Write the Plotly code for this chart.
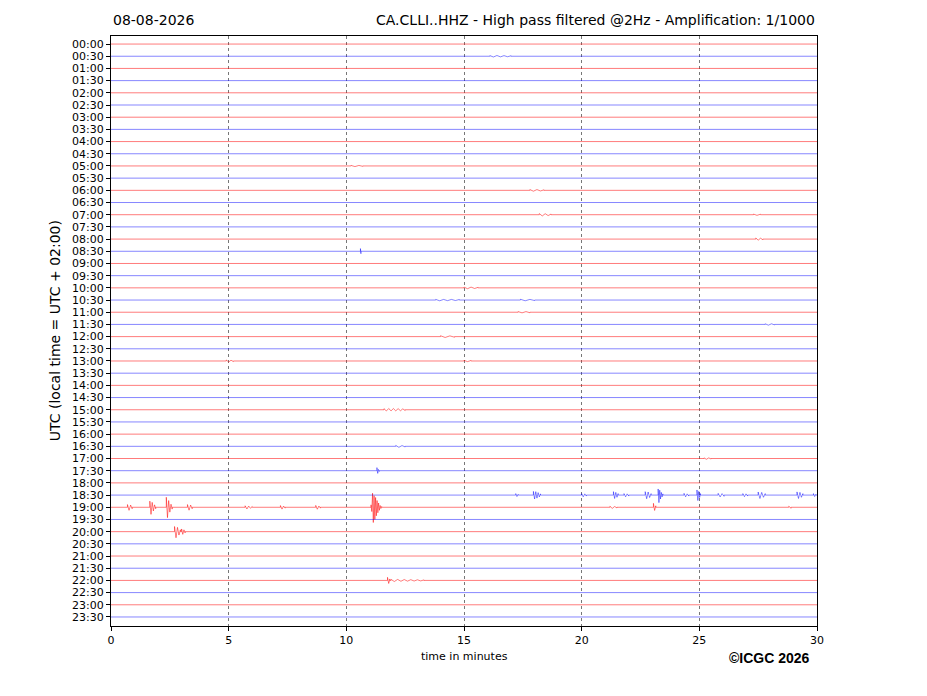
import numpy as np
import plotly.graph_objects as go

# etiquetes de les files (UTC)
row_labels = ["00:00", "00:30", "01:00", "01:30", "02:00", "02:30", "03:00", "03:30",
              "04:00", "04:30", "05:00", "05:30", "06:00", "06:30", "07:00", "07:30",
              "08:00", "08:30", "09:00", "09:30", "10:00", "10:30", "11:00", "11:30",
              "12:00", "12:30", "13:00", "13:30", "14:00", "14:30", "15:00", "15:30",
              "16:00", "16:30", "17:00", "17:30", "18:00", "18:30", "19:00", "19:30",
              "20:00", "20:30", "21:00", "21:30", "22:00", "22:30", "23:00", "23:30"]
row_colors = ["rgba(255,0,0,0.65)", "rgba(0,0,255,0.6)"]   # alternen fila a fila

x_ticks = [0, 5, 10, 15, 20, 25, 30]

# esdeveniments: (fila, minut inici, minut final, amplituds dels pics en unitats de fila)
events = [
    ("00:30", 16.1, 17.0, [0.05, -0.06, 0.06, -0.05, 0.05, -0.04, 0.04]),
    ("05:00", 10.2, 10.7, [0.04, -0.05, 0.04, -0.03]),
    ("06:00", 17.8, 18.4, [0.06, -0.07, 0.06, -0.05, 0.04]),
    ("07:00", 18.2, 18.7, [0.09, -0.10, 0.08, -0.07, 0.05]),
    ("07:00", 27.3, 27.6, [0.05, -0.05, 0.04]),
    ("08:00", 27.4, 27.7, [0.09, -0.09, 0.07, -0.05]),
    ("08:30", 10.6, 10.62, [0.22, -0.20]),
    ("10:00", 15.0, 15.6, [0.06, -0.07, 0.06, -0.05, 0.04]),
    ("10:30", 13.8, 14.8, [0.05, -0.06, 0.05, -0.05, 0.05, -0.04, 0.04]),
    ("10:30", 17.4, 18.0, [0.06, -0.06, 0.05, -0.04]),
    ("11:00", 17.3, 17.8, [0.05, -0.05, 0.05, -0.04]),
    ("11:30", 27.8, 28.2, [0.05, -0.06, 0.05, -0.04]),
    ("12:00", 14.0, 14.6, [0.07, -0.07, 0.06, -0.05]),
    ("13:00", 4.9, 5.2, [0.08, -0.08, 0.06, -0.04]),
    ("13:00", 15.0, 15.3, [0.05, -0.05, 0.04]),
    ("15:00", 11.6, 12.5, [0.09, -0.10, 0.10, -0.09, 0.10, -0.09, 0.09, -0.08, 0.07, -0.06]),
    ("16:30", 12.1, 12.5, [0.07, -0.08, 0.06, -0.05]),
    ("17:00", 25.2, 25.5, [0.05, -0.06, 0.05, -0.04]),
    ("17:30", 11.3, 11.4, [0.25, -0.22, 0.10, -0.06]),
    ("18:30", 17.2, 17.3, [0.12, -0.12, 0.06]),
    ("18:30", 17.95, 18.25, [0.30, -0.32, 0.28, -0.25, 0.20, -0.15, 0.10]),
    ("18:30", 20.0, 20.2, [0.12, -0.14, 0.10, -0.08]),
    ("18:30", 21.35, 21.55, [0.28, -0.28, 0.22, -0.18, 0.12]),
    ("18:30", 21.8, 22.0, [0.12, -0.14, 0.10, -0.08]),
    ("18:30", 22.7, 22.95, [0.28, -0.30, 0.25, -0.20, 0.12]),
    ("18:30", 23.25, 23.45, [0.50, -0.62, 0.40, -0.32, 0.22, -0.15, 0.10]),
    ("18:30", 24.35, 24.55, [0.14, -0.14, 0.10, -0.08]),
    ("18:30", 24.9, 25.05, [0.42, -0.45, 0.30, -0.20, 0.12]),
    ("18:30", 25.8, 26.05, [0.14, -0.15, 0.12, -0.10]),
    ("18:30", 26.85, 27.05, [0.12, -0.13, 0.10, -0.08]),
    ("18:30", 27.5, 27.8, [0.25, -0.28, 0.22, -0.18, 0.12]),
    ("18:30", 29.15, 29.4, [0.26, -0.28, 0.22, -0.18, 0.12]),
    ("18:30", 29.85, 29.95, [0.12, -0.12, 0.06]),
    ("19:00", 0.7, 0.9, [0.22, -0.25, 0.18, -0.12]),
    ("19:00", 1.65, 1.9, [0.50, -0.58, 0.40, -0.30, 0.20, -0.12]),
    ("19:00", 2.35, 2.6, [0.82, -0.85, 0.55, -0.40, 0.25, -0.15]),
    ("19:00", 3.25, 3.45, [0.22, -0.24, 0.18, -0.12]),
    ("19:00", 5.7, 6.0, [0.12, -0.14, 0.10, -0.08, 0.06]),
    ("19:00", 7.2, 7.4, [0.14, -0.15, 0.10, -0.07]),
    ("19:00", 8.7, 8.9, [0.15, -0.16, 0.10, -0.07]),
    ("19:00", 11.05, 11.5, [0.20, -0.35, 1.15, -1.25, 0.95, -1.00, 0.80, -0.70, 0.55,
                            -0.45, 0.35, -0.25, 0.15, -0.10, 0.06]),
    ("19:00", 21.2, 21.5, [0.08, -0.09, 0.06, -0.05]),
    ("19:00", 23.05, 23.15, [0.32, -0.26, 0.12]),
    ("19:00", 28.8, 28.9, [0.08, -0.08]),
    ("20:00", 2.7, 2.95, [0.42, -0.50, 0.35, -0.28, 0.15]),
    ("20:00", 3.0, 3.15, [0.22, -0.22, 0.15, -0.10]),
    ("22:00", 11.75, 11.85, [0.25, -0.25, 0.12]),
    ("22:00", 11.9, 13.3, [0.08, -0.09, 0.08, -0.07, 0.07, -0.06, 0.06, -0.05, 0.05, -0.04, 0.04]),
]

fig = go.Figure()

for color_index, color in enumerate(row_colors):
    xs, ys = [], []
    for i, label in enumerate(row_labels):
        if i % 2 != color_index:
            continue
        row_x, row_y = [0.0], [float(i)]
        for ev_label, t0, t1, amps in sorted(e for e in events if e[0] == label):
            row_x += [t0] + list(np.linspace(t0, t1, len(amps))) + [t1]
            row_y += [float(i)] + [i - a for a in amps] + [float(i)]
        row_x.append(30.0)
        row_y.append(float(i))
        xs += row_x + [None]
        ys += row_y + [None]
    fig.add_trace(go.Scatter(x=xs, y=ys, mode="lines", showlegend=False, hoverinfo="skip",
                             line=dict(color=color, width=0.8)))

# la pàgina té 8 px de marge al body
fig.update_layout(
    width=919, height=688,
    margin=dict(l=103, r=110, t=28, b=70),
    paper_bgcolor="white", plot_bgcolor="white",
    font=dict(family="DejaVu Sans", size=11, color="black"),
)

fig.update_xaxes(range=[0, 30], tickvals=x_ticks, ticks="outside", ticklen=4, tickcolor="black",
                 showline=True, linecolor="black", linewidth=1, mirror=True,
                 showgrid=True, gridcolor="#777", griddash="dot", gridwidth=0.5, zeroline=False)
fig.update_yaxes(range=[47.74, -0.66], tickvals=list(range(len(row_labels))), ticktext=row_labels,
                 ticks="outside", ticklen=4, tickcolor="black",
                 showline=True, linecolor="black", linewidth=1, mirror=True,
                 showgrid=False, zeroline=False)

fig.add_annotation(text="08-08-2026", xref="paper", yref="paper", x=0, y=1.027,
                   xanchor="left", yanchor="middle", showarrow=False, font=dict(size=14))
fig.add_annotation(text="CA.CLLI..HHZ - High pass filtered @2Hz - Amplification: 1/1000",
                   xref="paper", yref="paper", x=1, y=1.027,
                   xanchor="right", yanchor="middle", showarrow=False, font=dict(size=14))
fig.add_annotation(text="UTC (local time = UTC + 02:00)", xref="paper", yref="paper",
                   x=-0.079, y=0.5, textangle=-90, xanchor="center", yanchor="middle",
                   showarrow=False, font=dict(size=14))
fig.add_annotation(text="time in minutes", xref="paper", yref="paper", x=0.5, y=-0.051,
                   xanchor="center", yanchor="middle", showarrow=False, font=dict(size=11))
fig.add_annotation(text="<b>©ICGC 2026</b>", xref="paper", yref="paper", x=0.933, y=-0.054,
                   xanchor="center", yanchor="middle", showarrow=False,
                   font=dict(family="Liberation Sans", size=14))

fig.write_html("out.html")
